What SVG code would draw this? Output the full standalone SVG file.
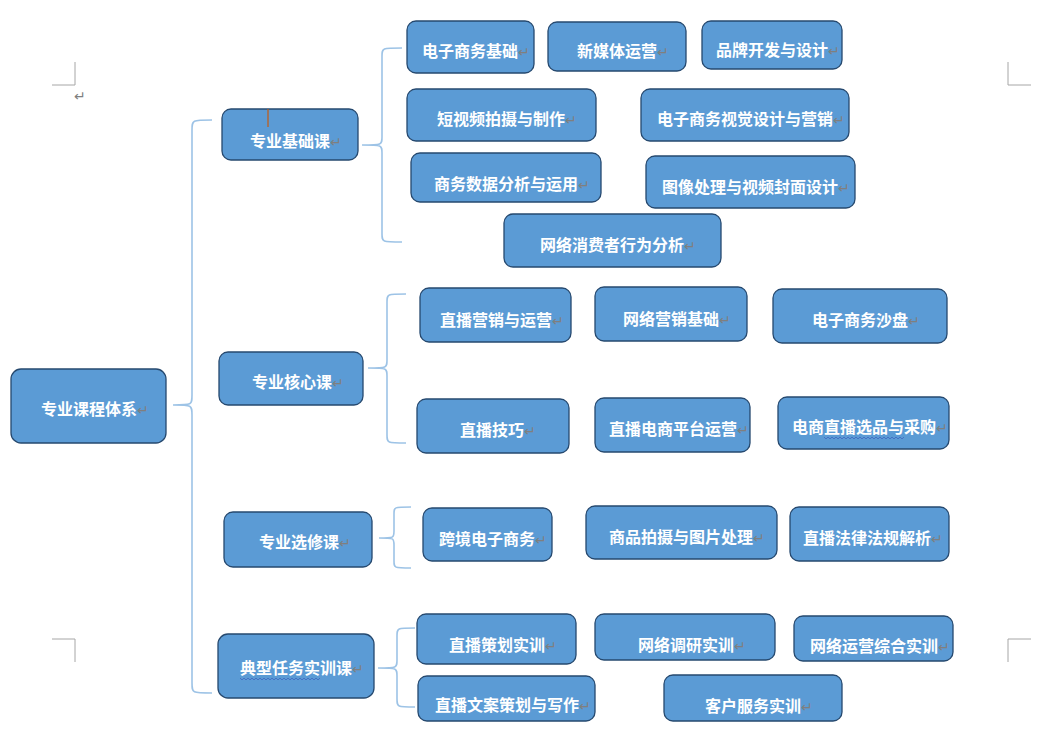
<svg xmlns="http://www.w3.org/2000/svg" width="1043" height="742" viewBox="0 0 1043 742">
<style>
.n rect{fill:#5B9BD5;stroke:#26496f;stroke-width:1.3}
.t{font-family:"Noto Sans CJK SC","Noto Sans CJK TC",sans-serif;font-size:16px;font-weight:bold;fill:#ffffff}
.pm{font-family:"DejaVu Sans",sans-serif;font-size:14px;font-weight:normal;fill:#7f7f7f}
.br{fill:none;stroke:#9dc3e6;stroke-width:1.6}
.cm{fill:none;stroke:#a6a6a6;stroke-width:1}
.wv{fill:none;stroke:#4472c4;stroke-width:1}
</style>
<rect width="1043" height="742" fill="#ffffff"/>
<g id="page-marks">
<path class="cm" d="M75,62 V85 H52"/>
<path class="cm" d="M1008,62 V85 H1031"/>
<path class="cm" d="M52,639 H75 V662"/>
<path class="cm" d="M1031,639 H1008 V662"/>
<text x="74" y="101" class="pm">↵</text>
</g>
<g id="connectors">
<path class="br" d="M212,120 C192,120 192,120 192,130 V395 C192,405 192,405 173,405 C192,405 192,405 192,415 V683 C192,693 192,693 212,693"/>
<path class="br" d="M402,48 C382,48 382,48 382,56 V137 C382,145 382,145 362,145 C382,145 382,145 382,153 V234 C382,242 382,242 402,242"/>
<path class="br" d="M406,294 C387,294 387,294 387,302 V360 C387,368 387,368 368,368 C387,368 387,368 387,376 V435 C387,443 387,443 406,443"/>
<path class="br" d="M411,507 C394,507 394,507 394,514 V531 C394,538 394,538 379,538 C394,538 394,538 394,545 V561 C394,568 394,568 411,568"/>
<path class="br" d="M415,628 C397,628 397,628 397,636 V660 C397,668 397,668 378,668 C397,668 397,668 397,676 V699 C397,707 397,707 415,707"/>
</g>
<g id="root" class="n"><rect x="11" y="369" width="155" height="74" rx="10"/><text class="t" x="41" y="415">专业课程体系<tspan class="pm">↵</tspan></text></g>
<g id="jichu" class="n"><rect x="222" y="109" width="136" height="51" rx="9"/><text class="t" x="250" y="147">专业基础课<tspan class="pm">↵</tspan></text><line x1="268" y1="109" x2="268" y2="127" stroke="#c55a11" stroke-width="1.2"/></g>
<g id="hexin" class="n"><rect x="219" y="352" width="144" height="53" rx="9"/><text class="t" x="252" y="388">专业核心课<tspan class="pm">↵</tspan></text></g>
<g id="xuanxiu" class="n"><rect x="224" y="512" width="148" height="55" rx="9"/><text class="t" x="259" y="548">专业选修课<tspan class="pm">↵</tspan></text></g>
<g id="shixun" class="n"><rect x="218" y="634" width="156" height="64" rx="10"/><text class="t" x="240" y="674">典型任务实训课<tspan class="pm">↵</tspan></text><path class="wv" d="M240,678 l2,2 l2,-2 l2,2 l2,-2 l2,2 l2,-2 l2,2 l2,-2 l2,2 l2,-2 l2,2 l2,-2 l2,2 l2,-2 l2,2 l2,-2 l2,2 l2,-2 l2,2 l2,-2 l2,2 l2,-2 l2,2 l2,-2 l2,2 l2,-2 l2,2 l2,-2 l2,2 l2,-2 l2,2 l2,-2 l2,2 l2,-2 l2,2 l2,-2 l2,2 l2,-2 l2,2 l2,-2"/></g>

<g id="dzswjc" class="n"><rect x="407" y="21" width="127" height="52" rx="9"/><text class="t" x="422" y="57">电子商务基础<tspan class="pm">↵</tspan></text></g>
<g id="xmtyy" class="n"><rect x="548" y="22" width="138" height="49" rx="9"/><text class="t" x="577" y="57">新媒体运营<tspan class="pm">↵</tspan></text></g>
<g id="ppkf" class="n"><rect x="702" y="21" width="140" height="48" rx="9"/><text class="t" x="716" y="56">品牌开发与设计<tspan class="pm">↵</tspan></text></g>
<g id="dsp" class="n"><rect x="407" y="89" width="189" height="52" rx="9"/><text class="t" x="437" y="125">短视频拍摄与制作<tspan class="pm">↵</tspan></text></g>
<g id="sjsj" class="n"><rect x="641" y="89" width="208" height="52" rx="9"/><text class="t" x="657" y="125">电子商务视觉设计与营销<tspan class="pm">↵</tspan></text></g>
<g id="sjfx" class="n"><rect x="411" y="153" width="190" height="49" rx="9"/><text class="t" x="434" y="190">商务数据分析与运用<tspan class="pm">↵</tspan></text></g>
<g id="txcl" class="n"><rect x="646" y="156" width="209" height="52" rx="9"/><text class="t" x="662" y="193">图像处理与视频封面设计<tspan class="pm">↵</tspan></text></g>
<g id="xfz" class="n"><rect x="504" y="214" width="217" height="53" rx="9"/><text class="t" x="540" y="251">网络消费者行为分析<tspan class="pm">↵</tspan></text></g>

<g id="zbyx" class="n"><rect x="420" y="288" width="151" height="54" rx="9"/><text class="t" x="440" y="326">直播营销与运营<tspan class="pm">↵</tspan></text></g>
<g id="wlyx" class="n"><rect x="595" y="287" width="152" height="54" rx="9"/><text class="t" x="623" y="325">网络营销基础<tspan class="pm">↵</tspan></text></g>
<g id="sp" class="n"><rect x="773" y="289" width="174" height="54" rx="9"/><text class="t" x="812" y="326">电子商务沙盘<tspan class="pm">↵</tspan></text></g>
<g id="zbjq" class="n"><rect x="417" y="399" width="152" height="54" rx="9"/><text class="t" x="460" y="436">直播技巧<tspan class="pm">↵</tspan></text></g>
<g id="zbpt" class="n"><rect x="595" y="398" width="155" height="54" rx="9"/><text class="t" x="609" y="435">直播电商平台运营<tspan class="pm">↵</tspan></text></g>
<g id="xpcg" class="n"><rect x="778" y="397" width="171" height="52" rx="9"/><text class="t" x="792" y="433">电商直播选品与采购<tspan class="pm">↵</tspan></text><path class="wv" d="M824,437 l2,2 l2,-2 l2,2 l2,-2 l2,2 l2,-2 l2,2 l2,-2 l2,2 l2,-2 l2,2 l2,-2 l2,2 l2,-2 l2,2 l2,-2 l2,2 l2,-2 l2,2 l2,-2 l2,2 l2,-2 l2,2 l2,-2 l2,2 l2,-2 l2,2 l2,-2 l2,2 l2,-2 l2,2 l2,-2 l2,2 l2,-2 l2,2 l2,-2 l2,2 l2,-2 l2,2 l2,-2"/></g>

<g id="kjds" class="n"><rect x="423" y="508" width="129" height="53" rx="9"/><text class="t" x="439" y="545">跨境电子商务<tspan class="pm">↵</tspan></text></g>
<g id="spps" class="n"><rect x="586" y="506" width="191" height="53" rx="9"/><text class="t" x="609" y="543">商品拍摄与图片处理<tspan class="pm">↵</tspan></text></g>
<g id="flfg" class="n"><rect x="790" y="507" width="159" height="54" rx="9"/><text class="t" x="803" y="544">直播法律法规解析<tspan class="pm">↵</tspan></text></g>

<g id="zbch" class="n"><rect x="417" y="614" width="159" height="50" rx="9"/><text class="t" x="449" y="651">直播策划实训<tspan class="pm">↵</tspan></text></g>
<g id="wldy" class="n"><rect x="595" y="614" width="180" height="46" rx="9"/><text class="t" x="638" y="651">网络调研实训<tspan class="pm">↵</tspan></text></g>
<g id="wlyy" class="n"><rect x="794" y="616" width="159" height="45" rx="9"/><text class="t" x="810" y="652">网络运营综合实训<tspan class="pm">↵</tspan></text></g>
<g id="zbwa" class="n"><rect x="418" y="676" width="177" height="45" rx="9"/><text class="t" x="435" y="711">直播文案策划与写作<tspan class="pm">↵</tspan></text></g>
<g id="khfw" class="n"><rect x="664" y="675" width="178" height="46" rx="9"/><text class="t" x="705" y="712">客户服务实训<tspan class="pm">↵</tspan></text></g>
</svg>
